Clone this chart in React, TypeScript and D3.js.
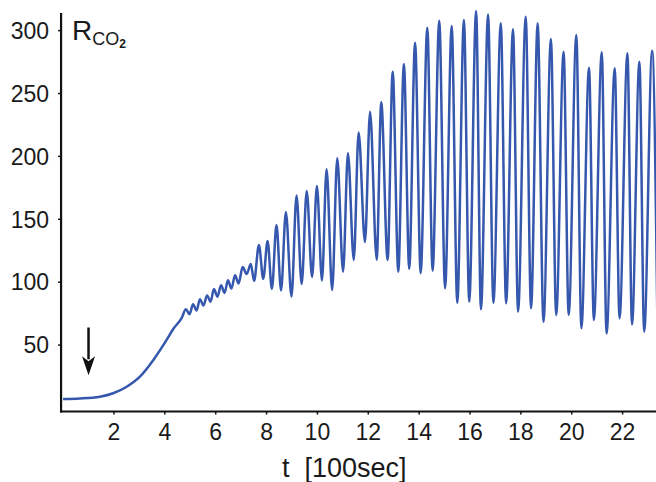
import React from "react";
import * as d3 from "d3";

// Smooth rise after stimulus (t in 100 s, R_CO2)
const riseT = [0, 0.66, 1.45, 1.97, 2.5, 3.02, 3.55, 4.07, 4.33, 4.66];
const riseR = [7.2, 7.6, 9.0, 11.7, 16.9, 24.9, 38.2, 54.1, 62.8, 71.5];

// Successive maxima / minima of the oscillation
const oscT = [
  4.83, 4.97, 5.11, 5.25, 5.38, 5.52, 5.66, 5.8, 5.93, 6.07, 6.21, 6.35, 6.48, 6.62, 6.76, 6.9,
  7.06, 7.22, 7.38, 7.51, 7.7, 7.87, 8.04, 8.21, 8.39, 8.57, 8.76, 8.98, 9.18, 9.38, 9.58, 9.79,
  9.98, 10.18, 10.36, 10.58, 10.78, 11.01, 11.2, 11.43, 11.62, 11.87, 12.07, 12.33, 12.51, 12.76,
  12.96, 13.18, 13.4, 13.61, 13.84, 14.06, 14.32, 14.53, 14.79, 15.02, 15.28, 15.5, 15.76, 15.97,
  16.24, 16.43, 16.71, 16.92, 17.21, 17.42, 17.69, 17.89, 18.19, 18.4, 18.66, 18.89, 19.18, 19.39,
  19.68, 19.88, 20.18, 20.38, 20.68, 20.87, 21.18, 21.37, 21.69, 21.88, 22.19, 22.37, 22.66, 22.85,
  23.16, 23.37,
];
const oscR = [
  78.5, 74.5, 82.5, 77.5, 86.5, 81.5, 89.5, 84.5, 94.5, 88.5, 97.5, 91.5, 101.5, 95.0, 105.5, 99.0,
  112.1, 106.5, 114.5, 101.0, 129.6, 102.6, 132.8, 94.6, 145.5, 93.4, 155.8, 88.6, 168.9, 98.6, 172.5, 104.1,
  176.5, 101.4, 189.8, 93.8, 198.5, 108.4, 202.5, 117.7, 218.9, 132.0, 235.5, 117.9, 243.0, 117.7,
  267.3, 108.4, 273.5, 110.7, 290.4, 107.3, 302.3, 109.1, 307.9, 95.2, 303.7, 83.5, 308.5, 84.5,
  315.6, 78.5, 312.7, 83.5, 305.8, 83.2, 301.1, 76.6, 311.1, 79.3, 305.8, 68.4, 293.3, 73.9,
  283.2, 73.9, 296.5, 63.4, 270.5, 70.0, 282.8, 59.2, 270.0, 71.3, 282.0, 66.4, 275.3, 60.7,
  284.0, 66.0,
];

const xTicks = [2, 4, 6, 8, 10, 12, 14, 16, 18, 20, 22];
const yTicks = [50, 100, 150, 200, 250, 300];

// Stimulus arrow (t, from R, to R)
const arrowT = 1;
const arrowFrom = 64;
const arrowTo = 26;

export default function App() {
  const W = 656;
  const H = 482;
  const x = d3.scaleLinear().domain([0, 22]).range([63.1, 622.6]);
  const y = d3.scaleLinear().domain([0, 300]).range([408, 30.6]);

  const pts: [number, number][] = [];
  riseT.forEach((t, i) => pts.push([t, riseR[i]]));
  oscT.forEach((t, i) => pts.push([t, oscR[i]]));

  const line = d3
    .line<[number, number]>()
    .x((d) => x(d[0]))
    .y((d) => y(d[1]))
    .curve(d3.curveMonotoneX);

  const axX = x(-0.08);
  const axY = y(-2.8);
  const topY = y(314);
  const font = "'Liberation Sans', Arial, Helvetica, sans-serif";
  const blue = "#3557ad";

  const ax = x(arrowT);
  const a0 = y(arrowFrom);
  const a1 = y(arrowTo);

  return (
    <svg
      width={W}
      height={H}
      style={{ position: "absolute", left: 0, top: 0, background: "#fff" }}
      fontFamily={font}
    >
      <defs>
        <clipPath id="plotclip">
          <rect x={axX} y={0} width={W - axX} height={axY} />
        </clipPath>
      </defs>
      <rect width={W} height={H} fill="#fff" />
      <path
        d={line(pts) || ""}
        fill="none"
        stroke={blue}
        strokeWidth={2.5}
        strokeLinejoin="round"
        clipPath="url(#plotclip)"
      />
      {/* axes */}
      <line x1={axX} x2={axX} y1={topY} y2={axY + 1} stroke="#111" strokeWidth={2.2} />
      <line x1={axX - 1} x2={W} y1={axY} y2={axY} stroke="#111" strokeWidth={2.2} />
      {yTicks.map((v) => (
        <g key={"y" + v}>
          <line x1={axX - 3} x2={axX} y1={y(v)} y2={y(v)} stroke="#111" strokeWidth={1.5} />
          <text
            x={49}
            y={y(v)}
            dy="0.36em"
            textAnchor="end"
            fontSize={23}
            fill="#1a1a1a"
          >
            {v}
          </text>
        </g>
      ))}
      {xTicks.map((t) => (
        <g key={"x" + t}>
          <line x1={x(t)} x2={x(t)} y1={axY} y2={axY + 3} stroke="#111" strokeWidth={1.5} />
          <text x={x(t)} y={440} textAnchor="middle" fontSize={23} fill="#1a1a1a">
            {t}
          </text>
        </g>
      ))}
      <text x={282} y={477} fontSize={27} fill="#1a1a1a" xmlSpace="preserve">
        {"t  [100sec]"}
      </text>
      {/* y label */}
      <text x={72} y={39.5} fontSize={28} fill="#1a1a1a">
        R
        <tspan fontSize={18} dy={5.5}>CO</tspan>
        <tspan fontSize={12} fontWeight="bold" dy={3}>2</tspan>
      </text>
      {/* arrow */}
      <line x1={ax} x2={ax} y1={a0} y2={a1 - 16} stroke="#111" strokeWidth={2.5} />
      <path
        d={`M${ax - 6.5},${a1 - 19} L${ax},${a1} L${ax + 6.5},${a1 - 19} L${ax},${a1 - 14} Z`}
        fill="#111"
      />
    </svg>
  );
}
